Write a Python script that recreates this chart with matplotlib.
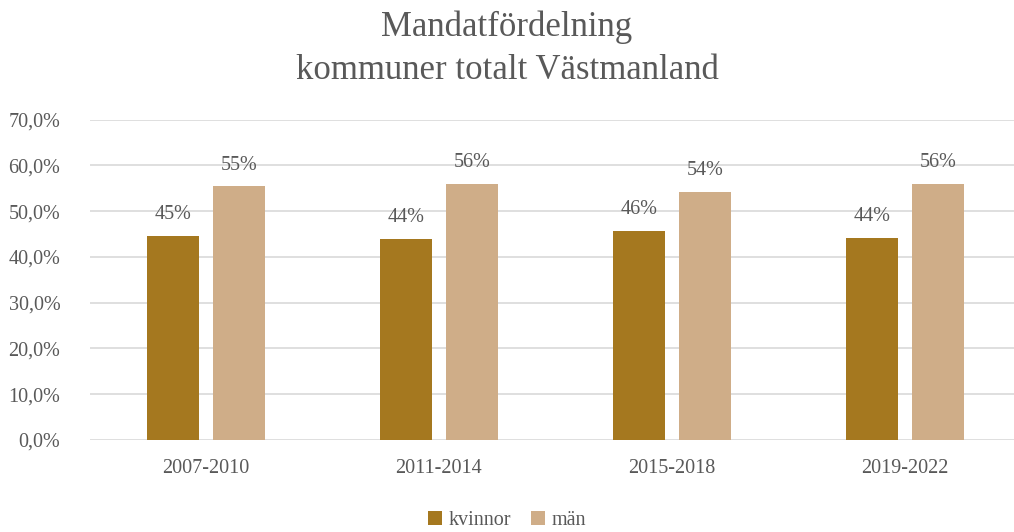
import matplotlib
matplotlib.use("Agg")
import matplotlib.pyplot as plt
import numpy as np

# data
periods = ["2007-2010", "2011-2014", "2015-2018", "2019-2022"]
kvinnor = [44.6, 44.0, 45.7, 44.1]
man = [55.4, 56.0, 54.3, 55.9]
kvinnor_lbl = ["45%", "44%", "46%", "44%"]
man_lbl = ["55%", "56%", "54%", "56%"]

plt.rcParams['font.family'] = ['Liberation Serif', 'DejaVu Serif']
grey = "#595959"

fig = plt.figure(figsize=(10.14, 5.32), dpi=100)
# plot area runs a bit past the right edge, like the original
ax = fig.add_axes([0.0883, 0.173, 0.919, 0.602])

x = np.arange(len(periods))
w = 0.223
gap = 0.06
b1 = ax.bar(x - (w + gap) / 2, kvinnor, w, color="#A5781F", label="kvinnor", zorder=3)
b2 = ax.bar(x + (w + gap) / 2, man, w, color="#CFAD88", label="män", zorder=3)

for bars, labels in ((b1, kvinnor_lbl), (b2, man_lbl)):
    for r, t in zip(bars, labels):
        ax.text(r.get_x() + r.get_width() / 2, r.get_height() + 2.6, t,
                ha="center", va="bottom", fontsize=14.5, color=grey)

ax.set_ylim(0, 70)
ax.set_xlim(-0.5, len(periods) - 0.5)
ax.set_yticks(np.arange(0, 71, 10))
ax.set_yticklabels([f"{v},0%" for v in range(0, 71, 10)])
ax.set_xticks(x)
ax.set_xticklabels(periods)
ax.yaxis.grid(True, color="#D9D9D9", linewidth=1.2, zorder=0)
for s in ax.spines.values():
    s.set_visible(False)
ax.tick_params(axis="both", length=0, labelsize=14.5, colors=grey)
ax.tick_params(axis="y", pad=21)
ax.tick_params(axis="x", pad=14)

fig.text(0.5, 0.948, "Mandatfördelning", ha="center", va="center", fontsize=25, color=grey)
fig.text(0.5, 0.868, "kommuner totalt Västmanland", ha="center", va="center", fontsize=25, color=grey)

fig.legend(handles=[b1, b2], loc="lower center", bbox_to_anchor=(0.5, -0.03), ncol=2,
           frameon=False, fontsize=14.5, labelcolor=grey, handlelength=0.7, handleheight=0.7,
           handletextpad=0.3, columnspacing=1.0)

fig.savefig("out.png", dpi=100)
